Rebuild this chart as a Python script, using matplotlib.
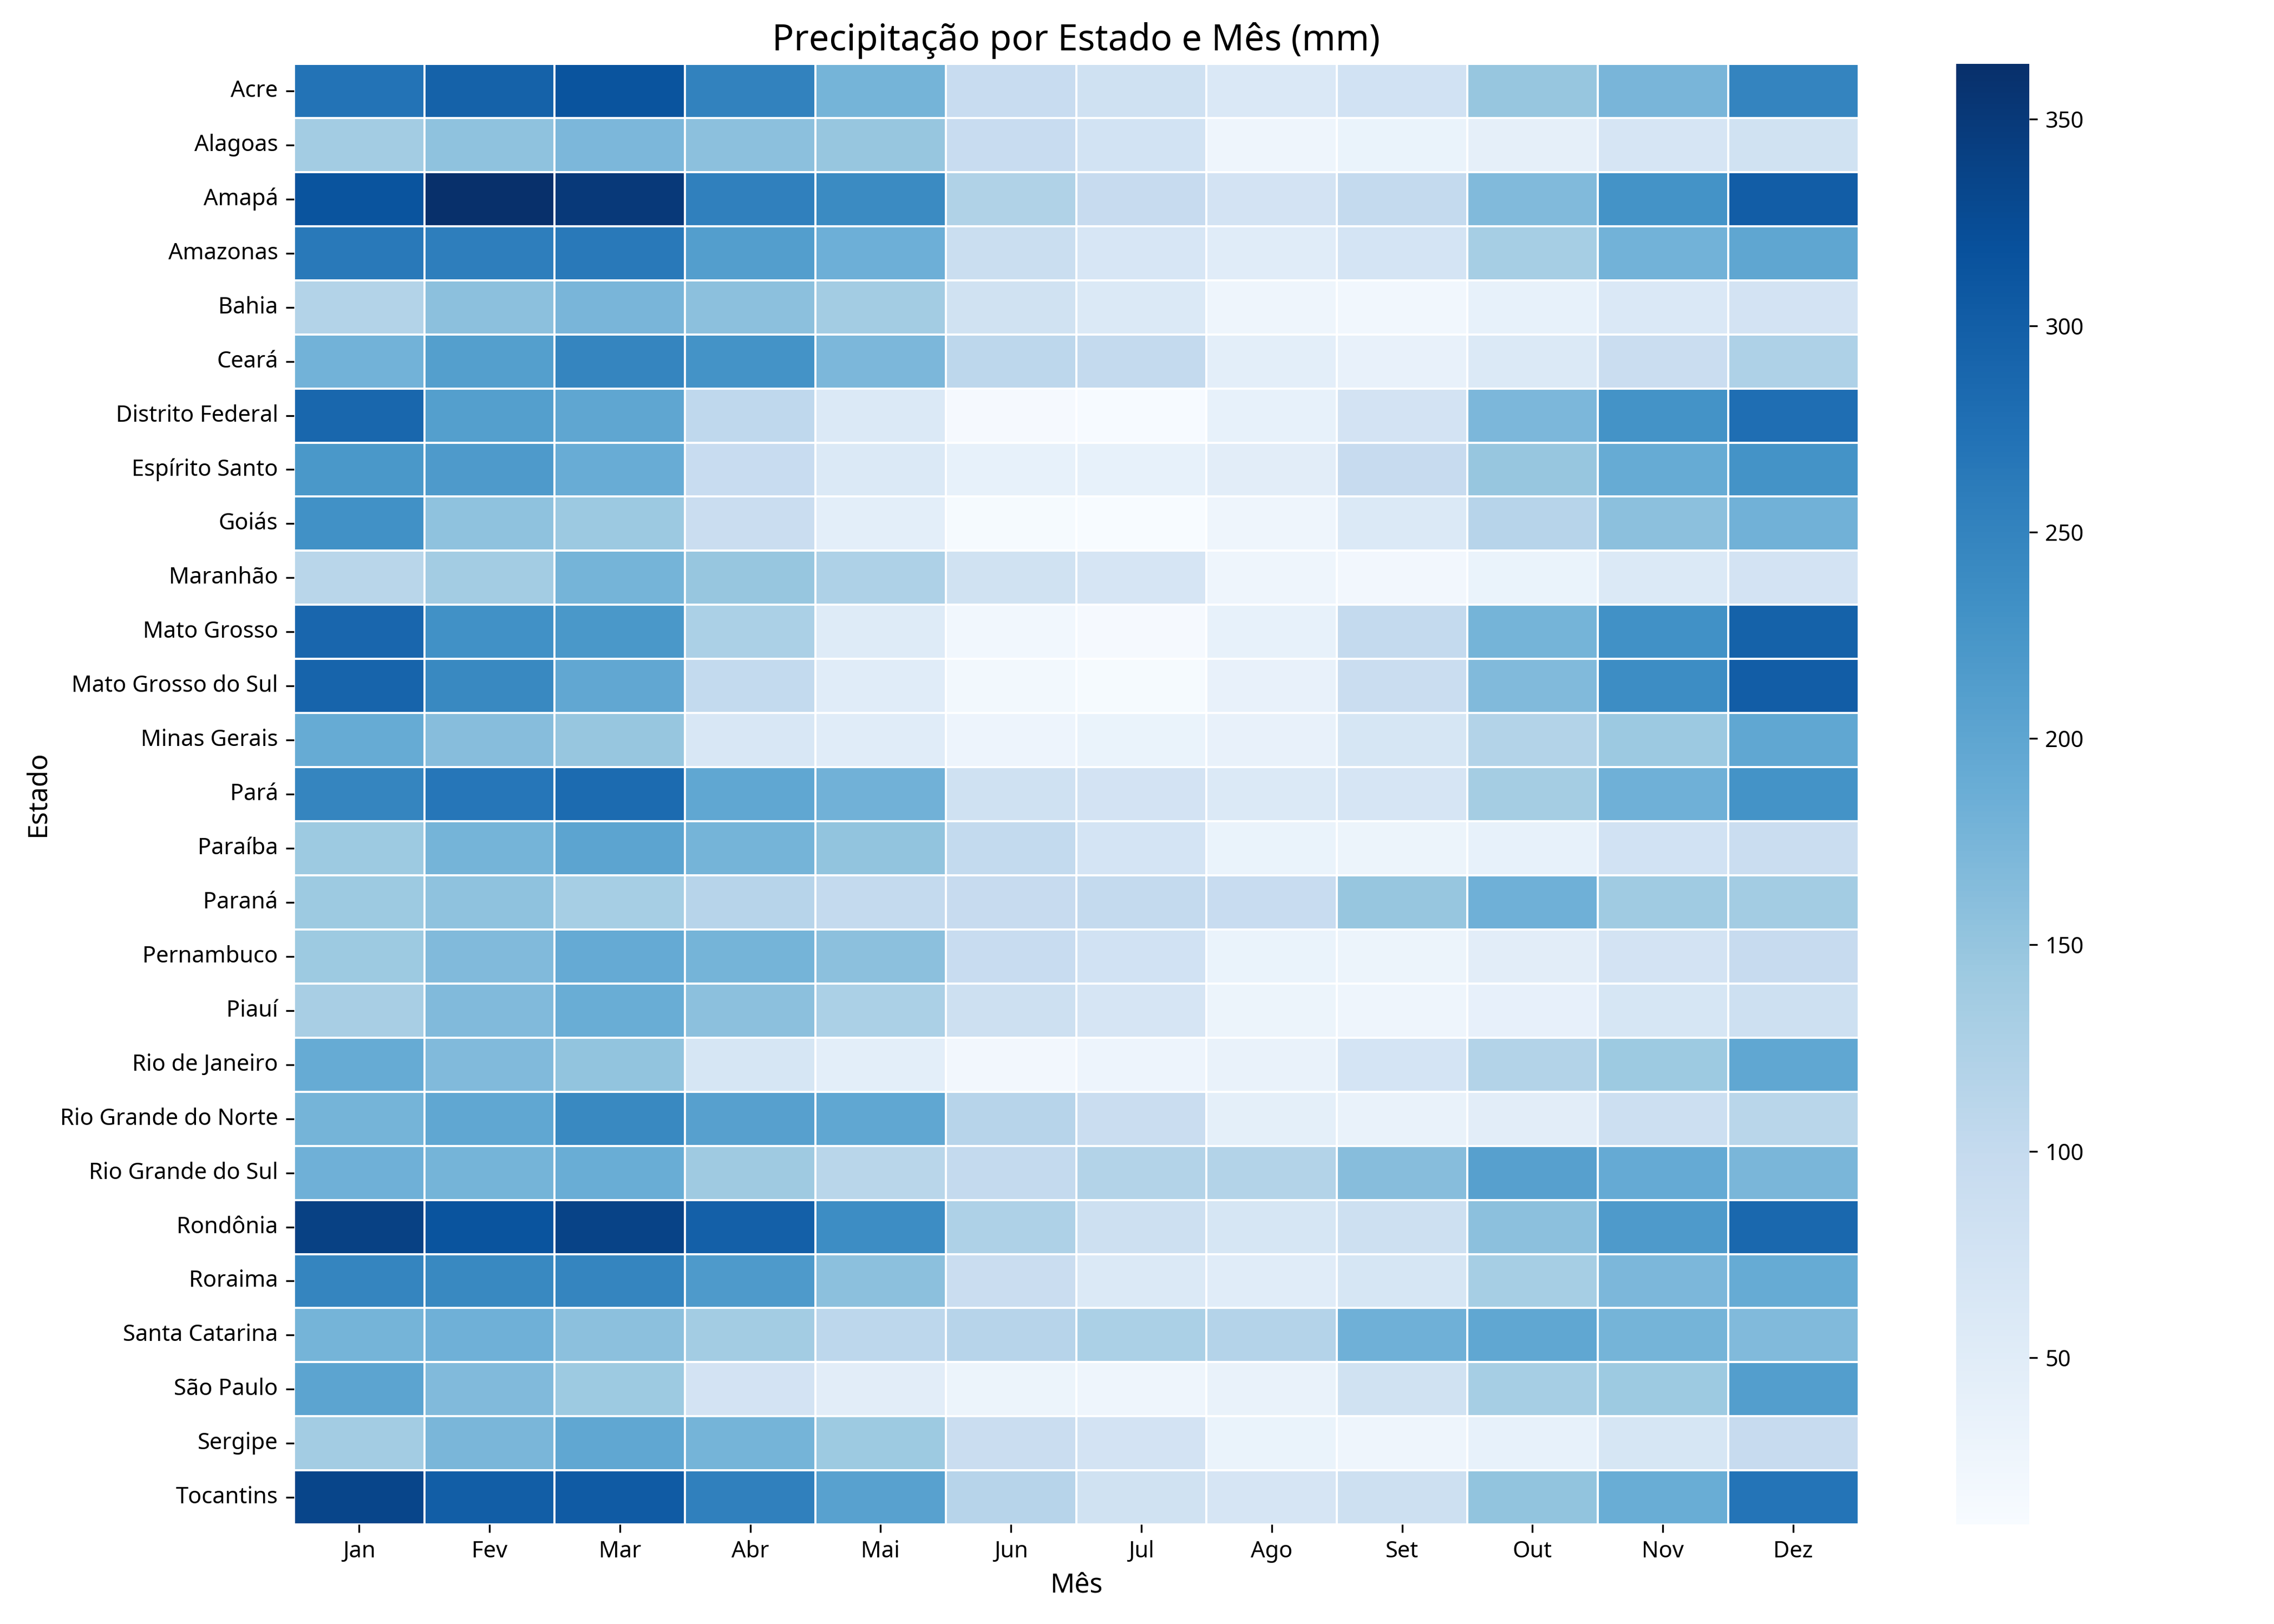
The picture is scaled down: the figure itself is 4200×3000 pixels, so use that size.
import pandas as pd
import matplotlib.pyplot as plt
import seaborn as sns

plt.rcParams['font.family'] = ['Noto Sans', 'DejaVu Sans']

estados = ['Acre', 'Alagoas', 'Amapá', 'Amazonas', 'Bahia', 'Ceará', 'Distrito Federal',
           'Espírito Santo', 'Goiás', 'Maranhão', 'Mato Grosso', 'Mato Grosso do Sul',
           'Minas Gerais', 'Pará', 'Paraíba', 'Paraná', 'Pernambuco', 'Piauí',
           'Rio de Janeiro', 'Rio Grande do Norte', 'Rio Grande do Sul', 'Rondônia',
           'Roraima', 'Santa Catarina', 'São Paulo', 'Sergipe', 'Tocantins']
meses = ['Jan', 'Fev', 'Mar', 'Abr', 'Mai', 'Jun', 'Jul', 'Ago', 'Set', 'Out', 'Nov', 'Dez']

precipitacao = [
    [272, 295, 315, 252, 178, 95, 82, 62, 78, 148, 175, 250],
    [138, 155, 172, 158, 148, 95, 76, 25, 32, 42, 70, 80],
    [315, 363.4, 350, 255, 240, 122, 98, 75, 100, 168, 228, 302],
    [265, 257, 265, 212, 185, 90, 67, 50, 72, 133, 180, 200],
    [120, 158, 175, 158, 138, 80, 60, 25, 22, 38, 62, 75],
    [180, 210, 248, 228, 172, 108, 100, 45, 37, 60, 92, 125],
    [288, 210, 200, 105, 60, 15, 12, 38, 75, 172, 228, 278],
    [222, 218, 190, 95, 60, 38, 38, 48, 98, 148, 192, 228],
    [232, 155, 145, 92, 45, 13, 9.6, 25, 60, 115, 158, 182],
    [112, 138, 178, 148, 125, 80, 70, 27, 20, 32, 60, 75],
    [290, 232, 222, 128, 55, 22, 15, 38, 100, 178, 232, 295],
    [292, 243, 197, 102, 50, 19, 13, 37, 92, 168, 237, 302],
    [192, 162, 148, 65, 50, 28, 32, 37, 68, 120, 145, 198],
    [248, 268, 282, 198, 182, 82, 75, 60, 70, 135, 183, 228],
    [143, 178, 203, 178, 152, 102, 72, 33, 30, 38, 78, 92],
    [143, 155, 133, 115, 100, 98, 100, 95, 148, 183, 140, 138],
    [143, 168, 193, 178, 158, 95, 78, 33, 30, 47, 75, 97],
    [132, 168, 188, 158, 128, 85, 70, 30, 27, 40, 68, 85],
    [192, 168, 153, 68, 45, 20, 28, 35, 72, 120, 143, 198],
    [178, 198, 243, 208, 198, 115, 92, 43, 35, 48, 88, 112],
    [183, 178, 188, 142, 112, 100, 120, 120, 163, 208, 193, 173],
    [340, 315, 338, 298, 237, 125, 85, 68, 85, 158, 218, 287],
    [248, 243, 248, 218, 158, 92, 60, 50, 68, 133, 172, 192],
    [178, 183, 158, 138, 108, 115, 128, 118, 183, 198, 178, 168],
    [202, 168, 143, 75, 47, 30, 25, 35, 80, 133, 143, 212],
    [138, 173, 198, 178, 143, 92, 75, 33, 25, 38, 68, 97],
    [335, 300, 305, 255, 207, 115, 80, 70, 85, 153, 188, 270],
]

df = pd.DataFrame(precipitacao, index=estados, columns=meses)

plt.figure(figsize=(14, 10))
ax = sns.heatmap(df, cmap='Blues', linewidths=0.5, linecolor='white')
ax.set_title('Precipitação por Estado e Mês (mm)', fontsize=16)
ax.set_xlabel('Mês', fontsize=12)
ax.set_ylabel('Estado', fontsize=12)
plt.yticks(rotation=0)
plt.tight_layout()
plt.savefig('out.png', dpi=300)
